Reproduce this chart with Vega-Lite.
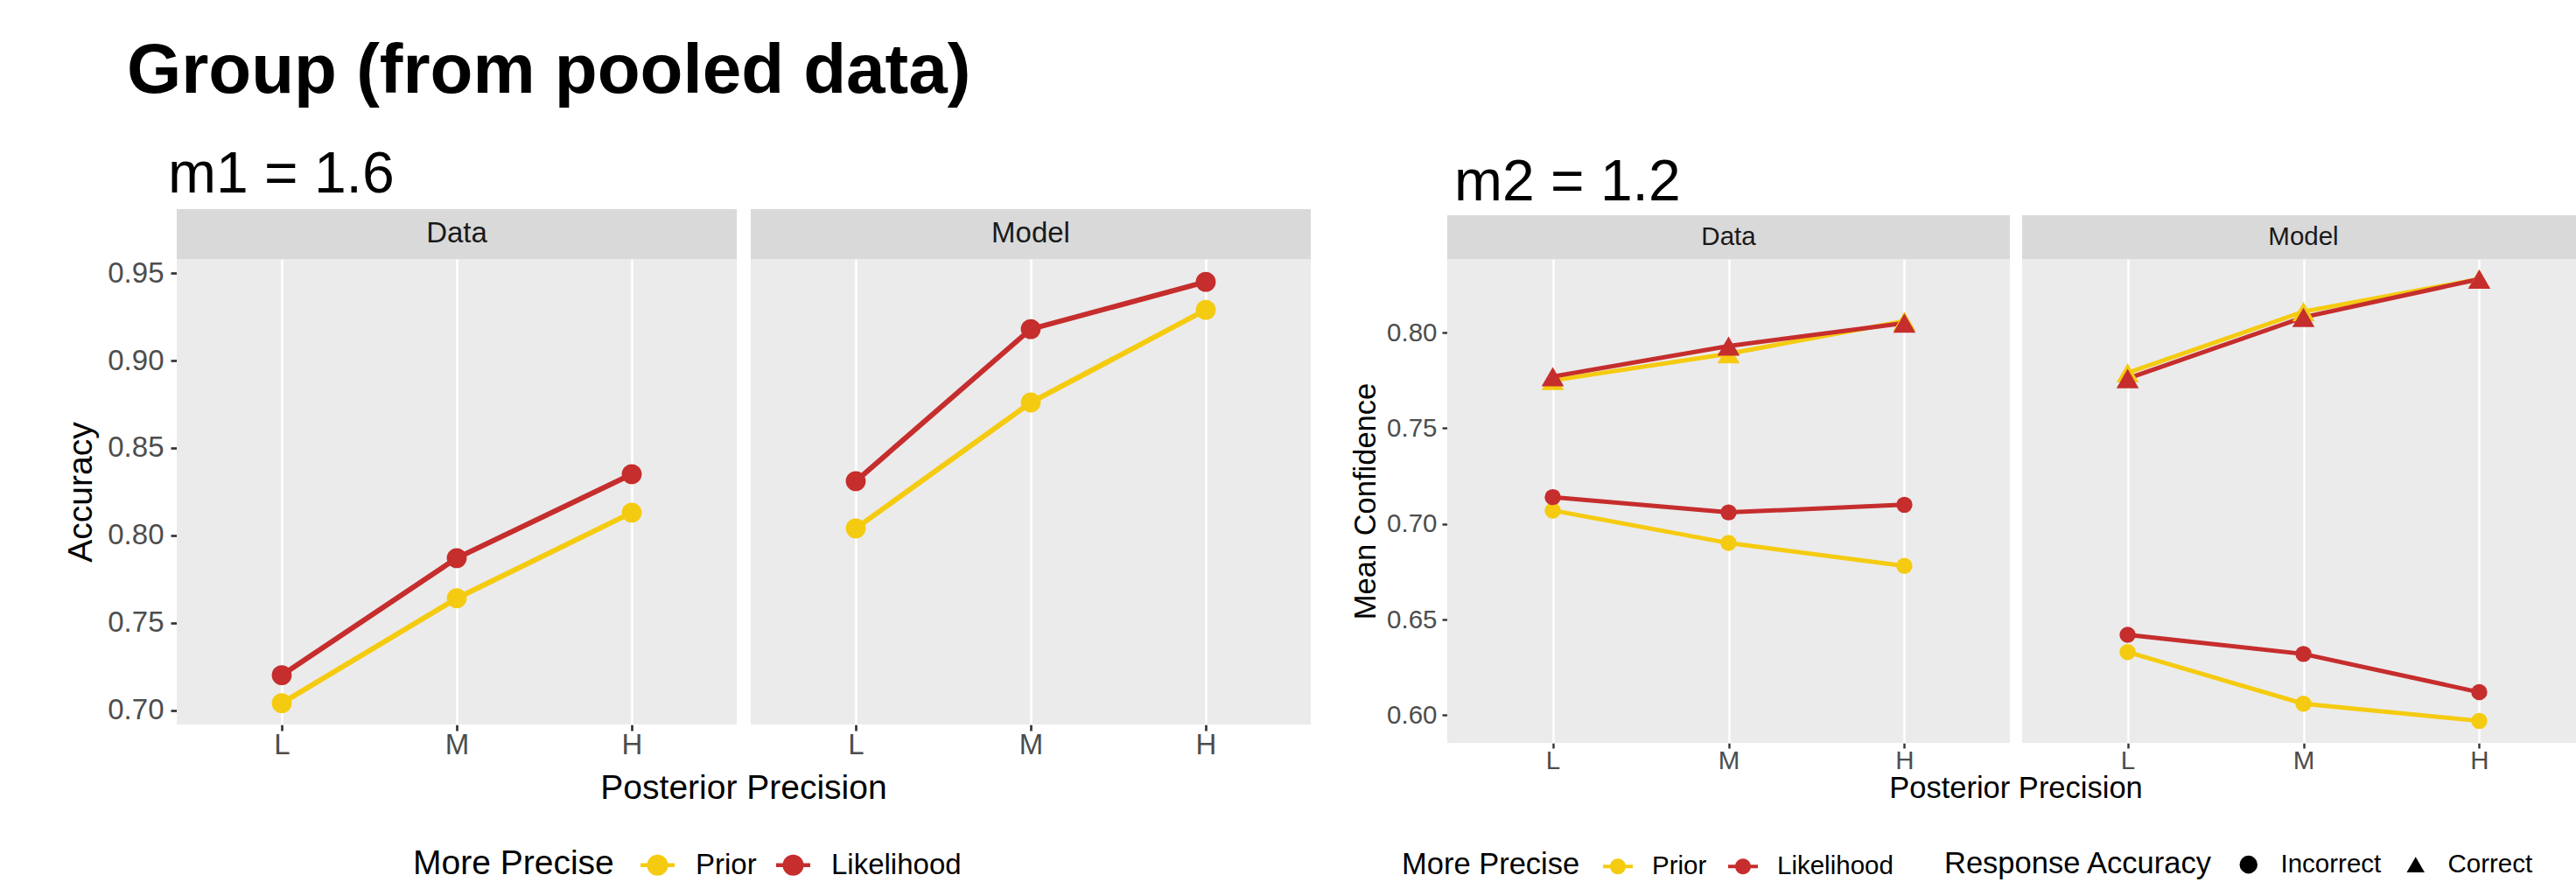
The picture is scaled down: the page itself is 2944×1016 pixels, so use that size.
{
  "$schema": "https://vega.github.io/schema/vega-lite/v6.json",
  "background": "white",
  "padding": {"left": 73, "top": 42, "right": 0, "bottom": 0},
  "datasets": {
    "m1": [
      {"panel": "Data", "prec": "L", "more": "Prior", "v": 0.704},
      {"panel": "Data", "prec": "M", "more": "Prior", "v": 0.764},
      {"panel": "Data", "prec": "H", "more": "Prior", "v": 0.813},
      {"panel": "Model", "prec": "L", "more": "Prior", "v": 0.804},
      {"panel": "Model", "prec": "M", "more": "Prior", "v": 0.876},
      {"panel": "Model", "prec": "H", "more": "Prior", "v": 0.929},
      {"panel": "Data", "prec": "L", "more": "Likelihood", "v": 0.720},
      {"panel": "Data", "prec": "M", "more": "Likelihood", "v": 0.787},
      {"panel": "Data", "prec": "H", "more": "Likelihood", "v": 0.835},
      {"panel": "Model", "prec": "L", "more": "Likelihood", "v": 0.831},
      {"panel": "Model", "prec": "M", "more": "Likelihood", "v": 0.918},
      {"panel": "Model", "prec": "H", "more": "Likelihood", "v": 0.945}
    ],
    "m2": [
      {"panel": "Data", "prec": "L", "more": "Prior", "acc": "Correct", "v": 0.775},
      {"panel": "Data", "prec": "M", "more": "Prior", "acc": "Correct", "v": 0.789},
      {"panel": "Data", "prec": "H", "more": "Prior", "acc": "Correct", "v": 0.806},
      {"panel": "Data", "prec": "L", "more": "Prior", "acc": "Incorrect", "v": 0.707},
      {"panel": "Data", "prec": "M", "more": "Prior", "acc": "Incorrect", "v": 0.690},
      {"panel": "Data", "prec": "H", "more": "Prior", "acc": "Incorrect", "v": 0.678},
      {"panel": "Model", "prec": "L", "more": "Prior", "acc": "Correct", "v": 0.779},
      {"panel": "Model", "prec": "M", "more": "Prior", "acc": "Correct", "v": 0.811},
      {"panel": "Model", "prec": "H", "more": "Prior", "acc": "Correct", "v": 0.828},
      {"panel": "Model", "prec": "L", "more": "Prior", "acc": "Incorrect", "v": 0.633},
      {"panel": "Model", "prec": "M", "more": "Prior", "acc": "Incorrect", "v": 0.606},
      {"panel": "Model", "prec": "H", "more": "Prior", "acc": "Incorrect", "v": 0.597},
      {"panel": "Data", "prec": "L", "more": "Likelihood", "acc": "Correct", "v": 0.777},
      {"panel": "Data", "prec": "M", "more": "Likelihood", "acc": "Correct", "v": 0.793},
      {"panel": "Data", "prec": "H", "more": "Likelihood", "acc": "Correct", "v": 0.805},
      {"panel": "Data", "prec": "L", "more": "Likelihood", "acc": "Incorrect", "v": 0.714},
      {"panel": "Data", "prec": "M", "more": "Likelihood", "acc": "Incorrect", "v": 0.706},
      {"panel": "Data", "prec": "H", "more": "Likelihood", "acc": "Incorrect", "v": 0.710},
      {"panel": "Model", "prec": "L", "more": "Likelihood", "acc": "Correct", "v": 0.776},
      {"panel": "Model", "prec": "M", "more": "Likelihood", "acc": "Correct", "v": 0.808},
      {"panel": "Model", "prec": "H", "more": "Likelihood", "acc": "Correct", "v": 0.828},
      {"panel": "Model", "prec": "L", "more": "Likelihood", "acc": "Incorrect", "v": 0.642},
      {"panel": "Model", "prec": "M", "more": "Likelihood", "acc": "Incorrect", "v": 0.632},
      {"panel": "Model", "prec": "H", "more": "Likelihood", "acc": "Incorrect", "v": 0.612}
    ]
  },
  "title": {
    "text": "Group (from pooled data)",
    "anchor": "start",
    "frame": "group",
    "fontSize": 80,
    "fontWeight": "bold",
    "color": "black",
    "baseline": "alphabetic",
    "offset": -19,
    "dx": -57
  },
  "spacing": 45,
  "resolve": {
    "scale": {"color": "independent", "shape": "independent", "x": "independent", "y": "independent"},
    "legend": {"color": "independent", "shape": "independent"}
  },
  "hconcat": [
    {
      "title": {"text": "m1  = 1.6", "anchor": "start", "frame": "group", "fontSize": 66, "fontWeight": "normal", "color": "black", "baseline": "alphabetic", "offset": -47, "dx": -10},
      "data": {"name": "m1"},
      "facet": {"column": {"field": "panel", "type": "nominal", "sort": ["Data", "Model"], "title": "Posterior Precision",
        "header": {"labels": false, "titleOrient": "bottom", "titleFontSize": 39, "titleFontWeight": "normal", "titleColor": "black", "titlePadding": 4}}},
      "spacing": 16,
      "spec": {
        "width": 640,
        "height": 532,
        "view": {"fill": "#EBEBEB", "stroke": null},
        "layer": [
          {
            "transform": [{"aggregate": [{"op": "count", "as": "n"}], "groupby": ["panel"]}],
            "mark": {"type": "rect", "color": "#D9D9D9", "clip": false},
            "encoding": {
              "x": {"value": 0}, "x2": {"value": "width"},
              "y": {"datum": 0.9581, "type": "quantitative"}, "y2": {"datum": 0.98663}
            }
          },
          {
            "transform": [{"filter": "datum.prec === 'M'"}, {"aggregate": [{"op": "count", "as": "n"}], "groupby": ["panel", "prec"]}],
            "mark": {"type": "text", "fontSize": 33, "color": "#1A1A1A", "baseline": "middle", "align": "center", "clip": false},
            "encoding": {
              "x": {"field": "prec", "type": "ordinal", "sort": ["L", "M", "H"]},
              "y": {"datum": 0.97237, "type": "quantitative"},
              "text": {"field": "panel", "type": "nominal"}
            }
          },
          {
            "encoding": {
              "x": {
                "field": "prec", "type": "ordinal", "sort": ["L", "M", "H"],
                "scale": {"type": "point", "padding": 0.6},
                "axis": {"title": null, "labelAngle": 0, "labelAlign": "center", "labelBaseline": "top", "labelFontSize": 33, "tickSize": 7, "tickWidth": 2.7, "grid": true, "gridWidth": 2.7, "labelPadding": 0}
              },
              "y": {
                "field": "v", "type": "quantitative",
                "scale": {"domain": [0.6918, 0.9581], "nice": false, "zero": false},
                "axis": {
                  "title": "Accuracy",
                  "values": [0.7, 0.725, 0.75, 0.775, 0.8, 0.825, 0.85, 0.875, 0.9, 0.925, 0.95],
                  "labelExpr": "abs(datum.value*20 - round(datum.value*20)) < 0.01 ? format(datum.value, '.2f') : ''",
                  "labelOverlap": false,
                  "labelFlush": false,
                  "labelFontSize": 33,
                  "titleFontSize": 39,
                  "titlePadding": 10,
                  "labelPadding": 8,
                  "tickSize": 7,
                  "tickWidth": 2.7,
                  "tickOpacity": {"condition": {"test": "abs(datum.value*20 - round(datum.value*20)) < 0.01", "value": 1}, "value": 0},
                  "gridWidth": {"condition": {"test": "abs(datum.value*20 - round(datum.value*20)) < 0.01", "value": 2.7}, "value": 1.3}
                }
              },
              "color": {
                "field": "more", "type": "nominal",
                "scale": {"domain": ["Prior", "Likelihood"], "range": ["#F5CB11", "#C62D2D"]},
                "legend": {
                  "title": "More Precise", "orient": "bottom", "direction": "horizontal", "titleOrient": "left", "titleLimit": 2000,
                  "titleFontSize": 39, "titleFontWeight": "normal", "titleColor": "black", "titleBaseline": "middle", "titleAnchor": "middle",
                  "labelFontSize": 33, "labelColor": "black", "labelLimit": 2000,
                  "symbolType": "M-1,-0.12L1,-0.12L1,0.12L-1,0.12Z M0.62,0A0.62,0.62 0 1,1 -0.62,0A0.62,0.62 0 1,1 0.62,0Z",
                  "symbolSize": 1521, "symbolStrokeWidth": 0, "symbolOpacity": 1,
                  "labelOffset": 24, "columnPadding": 22, "titlePadding": 30, "offset": 48
                }
              }
            },
            "layer": [
              {"mark": {"type": "line", "strokeWidth": 6}},
              {"mark": {"type": "point", "filled": true, "size": 520, "opacity": 1}}
            ]
          }
        ]
      }
    },
    {
      "title": {"text": "m2  = 1.2", "anchor": "start", "frame": "group", "fontSize": 66, "fontWeight": "normal", "color": "black", "baseline": "alphabetic", "offset": -49, "dx": 8},
      "data": {"name": "m2"},
      "facet": {"column": {"field": "panel", "type": "nominal", "sort": ["Data", "Model"], "title": "Posterior Precision",
        "header": {"labels": false, "titleOrient": "bottom", "titleFontSize": 34.5, "titleFontWeight": "normal", "titleColor": "black", "titlePadding": -9}}},
      "spacing": 14,
      "spec": {
        "width": 643,
        "height": 553,
        "view": {"fill": "#EBEBEB", "stroke": null},
        "layer": [
          {
            "transform": [{"aggregate": [{"op": "count", "as": "n"}], "groupby": ["panel"]}],
            "mark": {"type": "rect", "color": "#D9D9D9", "clip": false},
            "encoding": {
              "x": {"value": 0}, "x2": {"value": "width"},
              "y": {"datum": 0.8385, "type": "quantitative"}, "y2": {"datum": 0.86137}
            }
          },
          {
            "transform": [{"filter": "datum.prec === 'M'"}, {"aggregate": [{"op": "count", "as": "n"}], "groupby": ["panel", "prec"]}],
            "mark": {"type": "text", "fontSize": 29.5, "color": "#1A1A1A", "baseline": "middle", "align": "center", "clip": false},
            "encoding": {
              "x": {"field": "prec", "type": "ordinal", "sort": ["L", "M", "H"]},
              "y": {"datum": 0.84994, "type": "quantitative"},
              "text": {"field": "panel", "type": "nominal"}
            }
          },
          {
            "encoding": {
              "x": {
                "field": "prec", "type": "ordinal", "sort": ["L", "M", "H"],
                "scale": {"type": "point", "padding": 0.6},
                "axis": {"title": null, "labelAngle": 0, "labelAlign": "center", "labelBaseline": "top", "labelFontSize": 29.5, "tickSize": 6, "tickWidth": 2.4, "grid": true, "gridWidth": 2.4, "labelPadding": 0}
              },
              "y": {
                "field": "v", "type": "quantitative",
                "scale": {"domain": [0.5855, 0.8385], "nice": false, "zero": false},
                "axis": {
                  "title": "Mean Confidence",
                  "values": [0.6, 0.625, 0.65, 0.675, 0.7, 0.725, 0.75, 0.775, 0.8, 0.825],
                  "labelExpr": "abs(datum.value*20 - round(datum.value*20)) < 0.01 ? format(datum.value, '.2f') : ''",
                  "labelOverlap": false,
                  "labelFlush": false,
                  "labelFontSize": 29.5,
                  "titleFontSize": 34.5,
                  "titlePadding": 6,
                  "labelPadding": 6,
                  "tickSize": 6,
                  "tickWidth": 2.4,
                  "tickOpacity": {"condition": {"test": "abs(datum.value*20 - round(datum.value*20)) < 0.01", "value": 1}, "value": 0},
                  "gridWidth": {"condition": {"test": "abs(datum.value*20 - round(datum.value*20)) < 0.01", "value": 2.4}, "value": 1.2}
                }
              },
              "color": {
                "field": "more", "type": "nominal",
                "scale": {"domain": ["Prior", "Likelihood"], "range": ["#F5CB11", "#C62D2D"]},
                "legend": {
                  "title": "More Precise", "orient": "bottom", "direction": "horizontal", "titleOrient": "left", "titleLimit": 2000,
                  "titleFontSize": 34.5, "titleFontWeight": "normal", "titleColor": "black", "titleBaseline": "middle", "titleAnchor": "middle",
                  "labelFontSize": 29.5, "labelColor": "black", "labelLimit": 2000,
                  "symbolType": "M-1,-0.12L1,-0.12L1,0.12L-1,0.12Z M0.53,0A0.53,0.53 0 1,1 -0.53,0A0.53,0.53 0 1,1 0.53,0Z",
                  "symbolSize": 1156, "symbolStrokeWidth": 0, "symbolOpacity": 1,
                  "labelOffset": 22, "columnPadding": 24, "titlePadding": 26, "offset": 54
                }
              },
              "shape": {
                "field": "acc", "type": "nominal",
                "scale": {"domain": ["Incorrect", "Correct"], "range": ["circle", "triangle-up"]},
                "legend": {
                  "title": "Response Accuracy", "orient": "bottom", "direction": "horizontal", "titleOrient": "left", "titleLimit": 2000,
                  "titleFontSize": 34.5, "titleFontWeight": "normal", "titleColor": "black", "titleBaseline": "middle", "titleAnchor": "middle",
                  "labelFontSize": 29.5, "labelColor": "black", "labelLimit": 2000,
                  "symbolSize": 420, "symbolFillColor": "black", "symbolStrokeColor": "black", "symbolStrokeWidth": 0, "symbolOpacity": 1,
                  "labelOffset": 22, "columnPadding": 24, "titlePadding": 26, "offset": 54
                }
              }
            },
            "layer": [
              {"mark": {"type": "line", "strokeWidth": 5}, "encoding": {"shape": null, "detail": {"field": "acc", "type": "nominal"}}},
              {
                "transform": [{"filter": "datum.acc === 'Incorrect'"}],
                "mark": {"type": "point", "filled": true, "opacity": 1, "size": 340}
              },
              {
                "transform": [{"filter": "datum.acc === 'Correct'"}],
                "mark": {"type": "point", "filled": true, "opacity": 1, "size": 650}
              }
            ]
          }
        ]
      }
    }
  ],
  "config": {
    "font": "Liberation Sans",
    "view": {"stroke": null},
    "axis": {"domain": false, "tickColor": "#333333", "labelColor": "#4D4D4D", "titleColor": "black", "titleFontWeight": "normal", "gridColor": "white"},
    "legend": {"layout": {"bottom": {"anchor": "middle", "direction": "horizontal", "margin": 58, "bounds": "flush"}}},
    "title": {"color": "black"}
  }
}
